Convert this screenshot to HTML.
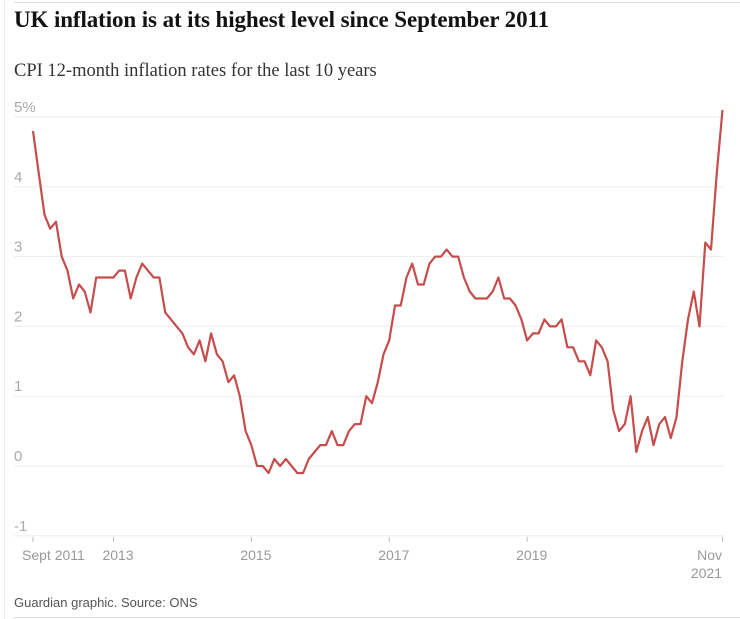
<!DOCTYPE html>
<html><head><meta charset="utf-8"><style>
body{margin:0;background:#fff;width:740px;height:619px;overflow:hidden;position:relative;font-family:"Liberation Sans",sans-serif}
#t{position:absolute;left:14px;top:7px;font:bold 23px "Liberation Serif",serif;color:#121212;letter-spacing:-0.1px}
#s{position:absolute;left:14px;top:61px;font:18.5px "Liberation Serif",serif;color:#333}
#f{position:absolute;left:14px;top:595px;font:13px "Liberation Sans",sans-serif;color:#555}
</style></head><body>
<div style="position:absolute;left:14px;right:0;top:2px;height:1px;background:#ddd"></div>
<div style="position:absolute;left:4px;top:0;bottom:0;width:1px;background:#eee"></div>
<div id="t">UK inflation is at its highest level since September 2011</div>
<div id="s">CPI 12-month inflation rates for the last 10 years</div>
<svg id="c" width="740" height="619" style="position:absolute;left:0;top:0"></svg>
<div id="f">Guardian graphic. Source: ONS</div>
<div style="position:absolute;left:14px;right:0;top:617px;height:1px;background:#ddd"></div>
<script>
const yTicks=[5,4,3,2,1,0,-1];
const yLabels=["5%","4","3","2","1","0","-1"];
const xTickMonths=[0,14,38,62,86,120];
const xTickLabels=["Sept 2011","2013","2015","2017","2019","Nov"];
const cpi=[4.8,4.2,
3.6,3.4,3.5,3.0,2.8,2.4,2.6,2.5,2.2,2.7,2.7,2.7,
2.7,2.8,2.8,2.4,2.7,2.9,2.8,2.7,2.7,2.2,2.1,2.0,
1.9,1.7,1.6,1.8,1.5,1.9,1.6,1.5,1.2,1.3,1.0,0.5,
0.3,0.0,0.0,-0.1,0.1,0.0,0.1,0.0,-0.1,-0.1,0.1,0.2,
0.3,0.3,0.5,0.3,0.3,0.5,0.6,0.6,1.0,0.9,1.2,1.6,
1.8,2.3,2.3,2.7,2.9,2.6,2.6,2.9,3.0,3.0,3.1,3.0,
3.0,2.7,2.5,2.4,2.4,2.4,2.5,2.7,2.4,2.4,2.3,2.1,
1.8,1.9,1.9,2.1,2.0,2.0,2.1,1.7,1.7,1.5,1.5,1.3,
1.8,1.7,1.5,0.8,0.5,0.6,1.0,0.2,0.5,0.7,0.3,0.6,
0.7,0.4,0.7,1.5,2.1,2.5,2.0,3.2,3.1,4.2,5.1];
const NS="http://www.w3.org/2000/svg";
const svg=document.getElementById('c');
const x=i=>33+i*(722.5-33)/120;
const y=v=>466-v*69.8;
function mk(tag,attrs,txt){const e=document.createElementNS(NS,tag);for(const k in attrs)e.setAttribute(k,attrs[k]);if(txt!=null)e.textContent=txt;svg.appendChild(e);return e;}
yTicks.forEach((v,i)=>{
 const g=mk('line',{x1:14,x2:724,y1:y(v),y2:y(v),stroke:'#eee','stroke-width':1});
 
 
 const t=mk('text',{x:14,y:y(v)-5,fill:'#aaa','font-size':15,'font-family':'Liberation Sans, sans-serif'},yLabels[i]);
 
 
});
xTickMonths.forEach((m,i)=>{
 const l=mk('line',{x1:x(m),x2:x(m),y1:y(-1)+1,y2:y(-1)+6,stroke:'#bbb','stroke-width':1});
 
 
 const last=i===xTickMonths.length-1;
 const t=mk('text',{x:last?722:x(m)-11,y:560,fill:'#999','font-size':14,'text-anchor':last?'end':'start','font-family':'Liberation Sans, sans-serif'},xTickLabels[i]);
 
 
 if(last){const t2=mk('text',{x:722,y:578,fill:'#999','font-size':14,'text-anchor':'end','font-family':'Liberation Sans, sans-serif'},'2021');
 
 }
});
const p=mk('path',{d:cpi.map((v,i)=>(i?'L':'M')+x(i).toFixed(1)+','+y(v).toFixed(1)).join(''),fill:'none',stroke:'#c74c4c','stroke-width':2.2,'stroke-linejoin':'round'});


</script>
</body></html>
